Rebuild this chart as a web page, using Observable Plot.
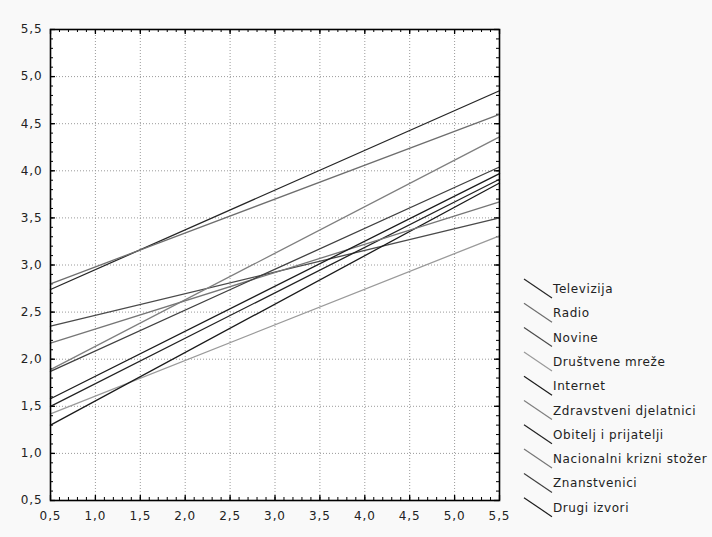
<!DOCTYPE html>
<html>
<head>
<meta charset="utf-8">
<script src="https://cdn.jsdelivr.net/npm/d3@7"></script>
<script src="https://cdn.jsdelivr.net/npm/@observablehq/plot@0.6"></script>
<style>
  html, body { margin: 0; padding: 0; background: #f9f9f9; }
  #chart svg { display: block; }
</style>
</head>
<body>
<div id="chart"></div>
<script>
// ---- data ----
const series = ["Televizija", "Radio", "Novine", "Društvene mreže", "Internet",
  "Zdravstveni djelatnici", "Obitelj i prijatelji", "Nacionalni krizni stožer",
  "Znanstvenici", "Drugi izvori"];
const xEnds = [0.5, 5.5];
const startValues = [2.74, 2.80, 2.35, 1.42, 1.30, 1.89, 1.50, 2.17, 1.87, 1.58];
const endValues   = [4.85, 4.60, 3.50, 3.31, 3.87, 4.36, 3.91, 3.67, 4.04, 3.97];
const seriesColors = ["#262626", "#6e6e6e", "#4a4a4a", "#9a9a9a", "#1a1a1a",
  "#7f7f7f", "#222222", "#767676", "#404040", "#1c1c1c"];
const majorTicks = [0.5, 1.0, 1.5, 2.0, 2.5, 3.0, 3.5, 4.0, 4.5, 5.0, 5.5];
const gridTicks = [1.0, 1.5, 2.0, 2.5, 3.0, 3.5, 4.0, 4.5, 5.0];
const minorTicks = d3.range(5, 56).map(v => v / 10);

const rows = [];
series.forEach((s, i) => {
  rows.push({series: s, x: xEnds[0], y: startValues[i]});
  rows.push({series: s, x: xEnds[1], y: endValues[i]});
});

const W = 712, H = 537;
const mL = 50, mR = 213, mT = 29, mB = 37;
const innerW = W - mL - mR, innerH = H - mT - mB;
const fmt = d => d.toFixed(1).replace(".", ",");
const font = "DejaVu Sans, Verdana, sans-serif";

const chart = Plot.plot({
  width: W, height: H,
  marginLeft: mL, marginRight: mR, marginTop: mT, marginBottom: mB,
  style: {fontFamily: font, fontSize: "12px", background: "#f9f9f9", color: "#222", letterSpacing: "0.9px"},
  x: {domain: [0.5, 5.5]},
  y: {domain: [0.5, 5.5]},
  color: {domain: series, range: seriesColors},
  marks: [
    Plot.frame({fill: "white", stroke: null}),
    Plot.gridX(gridTicks, {stroke: "#9a9a9a", strokeOpacity: 1, strokeDasharray: "1,2"}),
    Plot.gridY(gridTicks, {stroke: "#9a9a9a", strokeOpacity: 1, strokeDasharray: "1,2"}),
    // minor inward ticks
    Plot.tickX(minorTicks, {x: d => d, insetTop: innerH - 3, stroke: "#000"}),
    Plot.tickX(minorTicks, {x: d => d, insetBottom: innerH - 3, stroke: "#000"}),
    Plot.tickY(minorTicks, {y: d => d, insetRight: innerW - 3, stroke: "#000"}),
    Plot.tickY(minorTicks, {y: d => d, insetLeft: innerW - 3, stroke: "#000"}),
    // major inward ticks
    Plot.tickX(majorTicks, {x: d => d, insetTop: innerH - 5, stroke: "#000", strokeWidth: 1.3}),
    Plot.tickX(majorTicks, {x: d => d, insetBottom: innerH - 5, stroke: "#000", strokeWidth: 1.3}),
    Plot.tickY(majorTicks, {y: d => d, insetRight: innerW - 5, stroke: "#000", strokeWidth: 1.3}),
    Plot.tickY(majorTicks, {y: d => d, insetLeft: innerW - 5, stroke: "#000", strokeWidth: 1.3}),
    Plot.line(rows, {x: "x", y: "y", z: "series", stroke: "series", strokeWidth: 1.3}),
    Plot.frame({stroke: "#000", strokeWidth: 1.6}),
    Plot.axisX(majorTicks, {tickFormat: fmt, tickSize: 0, tickPadding: 11, label: null, fill: "#222"}),
    Plot.axisY(majorTicks, {tickFormat: fmt, tickSize: 0, tickPadding: 8, label: null, fill: "#222"})
  ]
});

document.getElementById("chart").appendChild(chart);

// ---- legend ----
const svg = d3.select(chart);
const lg = svg.append("g")
  .attr("font-family", font)
  .attr("font-size", 12)
  .attr("letter-spacing", "0.6px")
  .attr("text-anchor", "start")
  .attr("fill", "#222");
const rowY0 = 289, rowStep = 24.3;
series.forEach((s, i) => {
  const cy = rowY0 + i * rowStep;
  lg.append("line")
    .attr("x1", 524).attr("y1", cy - 10)
    .attr("x2", 552).attr("y2", cy + 9)
    .attr("stroke", seriesColors[i]).attr("stroke-width", 1.2);
  lg.append("text")
    .attr("x", 553).attr("y", cy + 4)
    .attr("text-anchor", "start")
    .text(s);
});
</script>
</body>
</html>
